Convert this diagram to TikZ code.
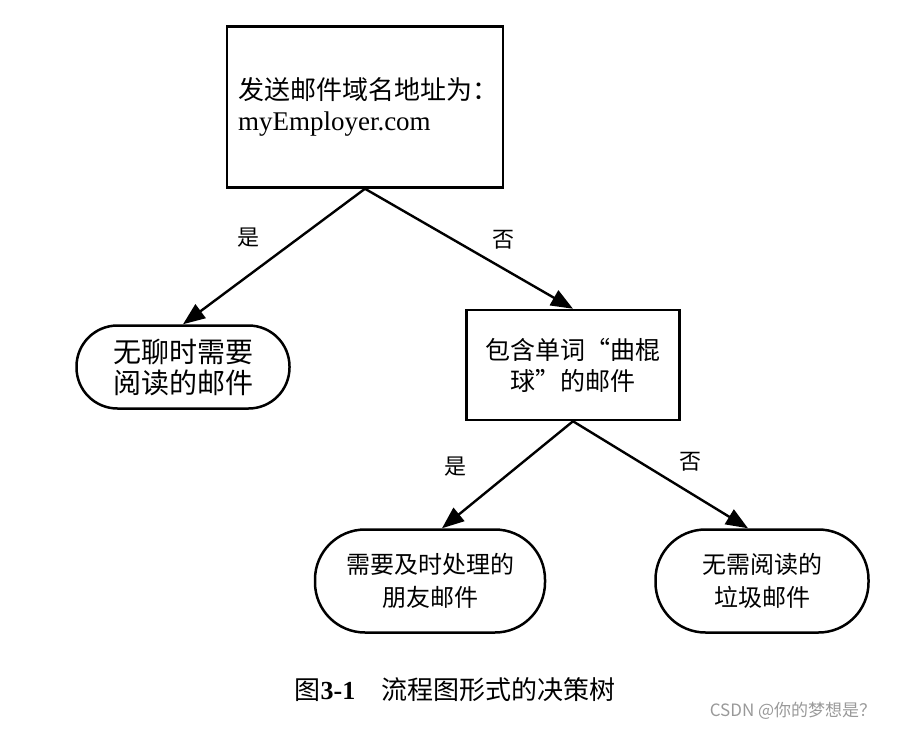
\documentclass[tikz,border=0pt]{standalone}
\usepackage{fontspec}
\setmainfont{Liberation Serif}
\newfontfamily\cjk{Noto Sans CJK SC}
\usetikzlibrary{arrows.meta,calc}

\begin{document}
\begin{tikzpicture}[x=1pt, y=-1pt,
  dbox/.style={draw, line width=2.5pt, inner xsep=11pt,
               font=\cjk\fontsize{25}{31}\selectfont},
  leaf/.style={draw, line width=2.5pt, align=center,
               font=\cjk\fontsize{24}{33}\selectfont},
  lbl/.style={font=\cjk\fontsize{22}{26}\selectfont},
  arr/.style={-{Triangle[length=22pt,width=17pt]}, line width=2.4pt},
]
\useasboundingbox (0,0) rectangle (900,729);
% ---------------- decisions -----------------
\node[dbox, minimum width=276pt, minimum height=161pt, text width=254pt, align=left,
      font=\cjk\fontsize{26}{31}\selectfont]
  (root) at (365,107) {发送邮件域名地址为：\\{\rmfamily\fontsize{27}{31}\selectfont myEmployer.com}};
\node[dbox, minimum width=213pt, minimum height=110pt, align=center]
  (hockey) at (573,365) {包含单词“曲棍\\球”的邮件};
% ---------------- leaves -----------------
\node[leaf, minimum width=213pt, minimum height=83pt, rounded corners=41pt,
      font=\cjk\fontsize{28}{31}\selectfont]
  (bored) at (183,367) {无聊时需要\\阅读的邮件};
\node[leaf, minimum width=230pt, minimum height=103pt, rounded corners=50pt]
  (friend) at (430,581) {需要及时处理的\\朋友邮件};
\node[leaf, minimum width=213pt, minimum height=103pt, rounded corners=50pt]
  (spam) at (762,581) {无需阅读的\\垃圾邮件};
% ---------------- edges -----------------
\draw[arr] (root.south) -- (bored.north);
\draw[arr] (root.south) -- (hockey.north);
\draw[arr] (hockey.south) -- ($(friend.north)+(12,0)$);
\draw[arr] (hockey.south) -- ($(spam.north)+(-14,0)$);
\node[lbl] (yes1) at (248,238) {是};
\node[lbl] (no1) at (503,240) {否};
\node[lbl] (yes2) at (455,467) {是};
\node[lbl] (no2) at (690,462) {否};
% ---------------- caption -----------------
\node[font=\cjk\fontsize{26}{30}\selectfont] (cap) at (455,690)
  {图{\rmfamily\bfseries 3-1}\hspace{1em}流程图形式的决策树};
\node[font=\cjk\fontsize{17}{20}\selectfont, text=gray!80] (mark) at (793,711)
  {CSDN @你的梦想是？};
\end{tikzpicture}
\end{document}
